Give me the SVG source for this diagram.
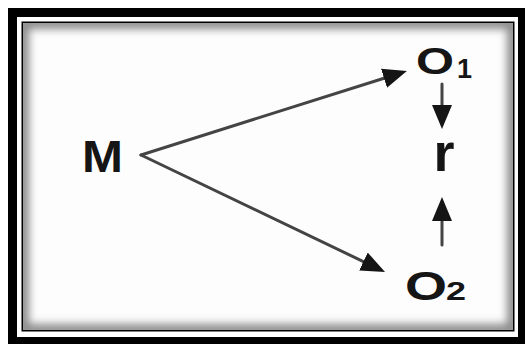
<svg xmlns="http://www.w3.org/2000/svg" width="525" height="344" viewBox="0 0 525 344">
<style>
.t{font-family:"Liberation Sans",Arial,sans-serif;font-weight:bold;fill:#151515}
.c{stroke:#444;stroke-width:3;fill:none;stroke-linecap:round}
</style>
<defs>
<marker id="ah" viewBox="0 -11 24 22" markerWidth="24" markerHeight="22" refX="0" refY="0" orient="auto" markerUnits="userSpaceOnUse">
<path d="M0,-10 L24,0 L0,10 z" fill="#151515"/>
</marker>
<clipPath id="inner"><rect x="23" y="23" width="490" height="307"/></clipPath>
<filter id="blur" x="-10%" y="-10%" width="120%" height="120%"><feGaussianBlur stdDeviation="4"/></filter>
</defs>
<g id="frame">
<rect x="8" y="8" width="517" height="336" fill="#000"/>
<rect x="17" y="17" width="501" height="320" fill="#fff"/>
<rect x="21.5" y="21.5" width="493" height="310" fill="#000"/>
<rect x="23" y="23" width="490" height="307" fill="#fdfdfd"/>
<g clip-path="url(#inner)">
<rect x="23" y="23" width="490" height="307" fill="none" stroke="#8a8a8a" stroke-width="12" filter="url(#blur)"/>
</g>
</g>
<g id="connectors">
<line class="c" x1="141" y1="155" x2="384" y2="78.2" marker-end="url(#ah)"/>
<line class="c" x1="141" y1="155" x2="363.4" y2="261.6" marker-end="url(#ah)"/>
<line class="c" x1="442" y1="84" x2="442" y2="105" marker-end="url(#ah)"/>
<line class="c" x1="442" y1="245" x2="442" y2="221" marker-end="url(#ah)"/>
</g>
<g id="node-M"><text class="t" x="82" y="172" font-size="44" textLength="41" lengthAdjust="spacingAndGlyphs">M</text></g>
<g id="node-O1"><text class="t" x="416" y="74" font-size="37" textLength="38" lengthAdjust="spacingAndGlyphs">O</text><text class="t" x="457" y="78" font-size="27">1</text></g>
<g id="node-r"><text class="t" x="433.5" y="171" font-size="54">r</text></g>
<g id="node-O2"><text class="t" x="405" y="300" font-size="40" textLength="42" lengthAdjust="spacingAndGlyphs">O</text><text class="t" x="446" y="300" font-size="25" textLength="20" lengthAdjust="spacingAndGlyphs">2</text></g>
</svg>
